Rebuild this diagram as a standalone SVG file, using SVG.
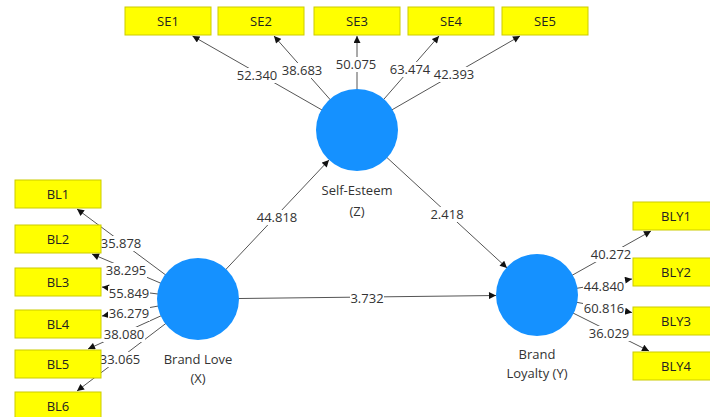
<svg xmlns="http://www.w3.org/2000/svg" width="710" height="417" viewBox="0 0 710 417">
<style>
.ln{stroke:#555;stroke-width:1;fill:none;marker-end:url(#ah)}
.lb{fill:#fff}
.t{font-family:"Open Sans","Liberation Sans",sans-serif;font-size:13px;fill:#333;text-anchor:middle;dominant-baseline:central}
.box{fill:#ffff00;stroke:#cccc00;stroke-width:1}
.bt{font-family:"Open Sans","Liberation Sans",sans-serif;font-size:13px;fill:#222;text-anchor:middle;dominant-baseline:central}
.lv{fill:#1591ff}
</style>
<defs>
<marker id="ah" viewBox="0 0 10 10" refX="10" refY="5" markerWidth="8" markerHeight="7" markerUnits="userSpaceOnUse" orient="auto">
<path d="M0,0 L10,5 L0,10 z" fill="#111"/>
</marker>
</defs>
<rect width="710" height="417" fill="#fff"/>
<g id="connectors">
<line class="ln" x1="357" y1="130" x2="192.5" y2="36"/>
<line class="ln" x1="357" y1="130" x2="274" y2="36"/>
<line class="ln" x1="357" y1="130" x2="357" y2="36"/>
<line class="ln" x1="357" y1="130" x2="439" y2="36"/>
<line class="ln" x1="357" y1="130" x2="520" y2="36"/>
<line class="ln" x1="198" y1="299" x2="77" y2="209"/>
<line class="ln" x1="198" y1="299" x2="92" y2="254"/>
<line class="ln" x1="198" y1="299" x2="102" y2="287"/>
<line class="ln" x1="198" y1="299" x2="102" y2="316"/>
<line class="ln" x1="198" y1="299" x2="88" y2="349"/>
<line class="ln" x1="198" y1="299" x2="77" y2="391"/>
<line class="ln" x1="537" y1="295" x2="651" y2="231"/>
<line class="ln" x1="537" y1="295" x2="632" y2="279"/>
<line class="ln" x1="537" y1="295" x2="632" y2="312.5"/>
<line class="ln" x1="537" y1="295" x2="649" y2="351"/>
<line class="ln" x1="198" y1="299" x2="329" y2="160"/>
<line class="ln" x1="357" y1="130" x2="507" y2="268"/>
<line class="ln" x1="198" y1="299" x2="496" y2="295.5"/>
<g id="labels">
<rect class="lb" x="236" y="68" width="42" height="15"/><text class="t" x="257" y="75">52.340</text>
<rect class="lb" x="281" y="63" width="42" height="15"/><text class="t" x="302" y="70">38.683</text>
<rect class="lb" x="335" y="57" width="42" height="15"/><text class="t" x="356" y="64">50.075</text>
<rect class="lb" x="389" y="62" width="42" height="15"/><text class="t" x="410" y="69">63.474</text>
<rect class="lb" x="433" y="67" width="42" height="15"/><text class="t" x="454" y="74">42.393</text>
<rect class="lb" x="100" y="236" width="42" height="15"/><text class="t" x="121" y="243">35.878</text>
<rect class="lb" x="105" y="263" width="42" height="15"/><text class="t" x="126" y="270">38.295</text>
<rect class="lb" x="108" y="286" width="42" height="15"/><text class="t" x="129" y="293">55.849</text>
<rect class="lb" x="108" y="306" width="42" height="15"/><text class="t" x="129" y="313">36.279</text>
<rect class="lb" x="103" y="327" width="42" height="15"/><text class="t" x="124" y="334">38.080</text>
<rect class="lb" x="99" y="352" width="42" height="15"/><text class="t" x="120" y="359">33.065</text>
<rect class="lb" x="590" y="247" width="42" height="15"/><text class="t" x="611" y="254">40.272</text>
<rect class="lb" x="583" y="279" width="42" height="15"/><text class="t" x="604" y="286">44.840</text>
<rect class="lb" x="583" y="301" width="42" height="15"/><text class="t" x="604" y="308">60.816</text>
<rect class="lb" x="588" y="326" width="42" height="15"/><text class="t" x="609" y="333">36.029</text>
<rect class="lb" x="256" y="210" width="42" height="15"/><text class="t" x="277" y="217">44.818</text>
<rect class="lb" x="430" y="207" width="34" height="15"/><text class="t" x="447" y="214">2.418</text>
<rect class="lb" x="350" y="291" width="34" height="15"/><text class="t" x="367" y="298">3.732</text>
</g>
</g>
<g id="SE1"><rect class="box" x="125" y="7" width="86" height="28"/><text class="bt" x="168" y="21">SE1</text></g>
<g id="SE2"><rect class="box" x="218" y="7" width="86" height="28"/><text class="bt" x="261" y="21">SE2</text></g>
<g id="SE3"><rect class="box" x="314" y="7" width="86" height="28"/><text class="bt" x="357" y="21">SE3</text></g>
<g id="SE4"><rect class="box" x="408" y="7" width="86" height="28"/><text class="bt" x="451" y="21">SE4</text></g>
<g id="SE5"><rect class="box" x="502" y="7" width="86" height="28"/><text class="bt" x="545" y="21">SE5</text></g>
<g id="BL1"><rect class="box" x="15" y="180" width="86" height="28"/><text class="bt" x="58" y="194">BL1</text></g>
<g id="BL2"><rect class="box" x="15" y="225" width="86" height="28"/><text class="bt" x="58" y="239">BL2</text></g>
<g id="BL3"><rect class="box" x="15" y="268" width="86" height="28"/><text class="bt" x="58" y="282">BL3</text></g>
<g id="BL4"><rect class="box" x="15" y="310" width="86" height="28"/><text class="bt" x="58" y="324">BL4</text></g>
<g id="BL5"><rect class="box" x="15" y="350" width="86" height="28"/><text class="bt" x="58" y="364">BL5</text></g>
<g id="BL6"><rect class="box" x="15" y="392" width="86" height="28"/><text class="bt" x="58" y="406">BL6</text></g>
<g id="BLY1"><rect class="box" x="633" y="202" width="86" height="28"/><text class="bt" x="676" y="216">BLY1</text></g>
<g id="BLY2"><rect class="box" x="633" y="258" width="86" height="28"/><text class="bt" x="676" y="272">BLY2</text></g>
<g id="BLY3"><rect class="box" x="633" y="307" width="86" height="28"/><text class="bt" x="676" y="321">BLY3</text></g>
<g id="BLY4"><rect class="box" x="633" y="352" width="86" height="28"/><text class="bt" x="676" y="366">BLY4</text></g>
<g id="SelfEsteem"><circle class="lv" cx="357" cy="130" r="41"/><text class="t" x="357" y="190">Self-Esteem</text><text class="t" x="357" y="211">(Z)</text></g>
<g id="BrandLove"><circle class="lv" cx="198" cy="299" r="41"/><text class="t" x="198" y="359">Brand Love</text><text class="t" x="198" y="378">(X)</text></g>
<g id="BrandLoyalty"><circle class="lv" cx="537" cy="295" r="41"/><text class="t" x="537" y="354">Brand</text><text class="t" x="537" y="373">Loyalty (Y)</text></g>
</svg>
